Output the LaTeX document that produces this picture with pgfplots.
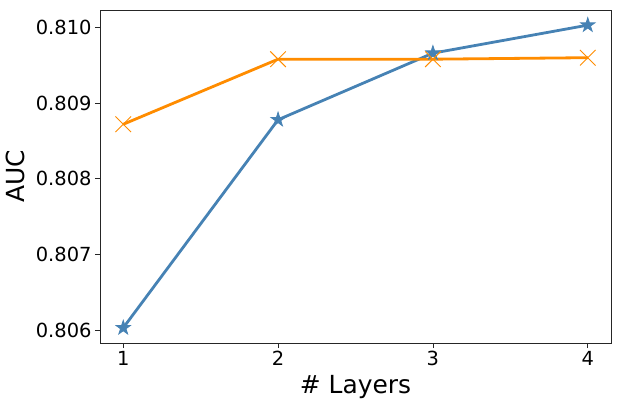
\documentclass[border=0pt]{standalone}
\usepackage{pgfplots}
\pgfplotsset{compat=1.18}
\usepackage{fontspec}
\setmainfont{DejaVu Sans}
\definecolor{steel}{RGB}{70,130,180}
\definecolor{dorange}{RGB}{255,140,0}
\pgfdeclareplotmark{fstar}{%
  \pgfpathmoveto{\pgfpointpolar{90}{\pgfplotmarksize}}%
  \pgfpathlineto{\pgfpointpolar{126}{0.382\pgfplotmarksize}}%
  \pgfpathlineto{\pgfpointpolar{162}{\pgfplotmarksize}}%
  \pgfpathlineto{\pgfpointpolar{198}{0.382\pgfplotmarksize}}%
  \pgfpathlineto{\pgfpointpolar{234}{\pgfplotmarksize}}%
  \pgfpathlineto{\pgfpointpolar{270}{0.382\pgfplotmarksize}}%
  \pgfpathlineto{\pgfpointpolar{306}{\pgfplotmarksize}}%
  \pgfpathlineto{\pgfpointpolar{342}{0.382\pgfplotmarksize}}%
  \pgfpathlineto{\pgfpointpolar{18}{\pgfplotmarksize}}%
  \pgfpathlineto{\pgfpointpolar{54}{0.382\pgfplotmarksize}}%
  \pgfpathclose
  \pgfusepathqfillstroke
}
\begin{document}
\begin{tikzpicture}
\begin{axis}[
  anchor=south west, at={(0,0)},
  scale only axis, width=511bp, height=333bp,
  xmin=0.85, xmax=4.15, ymin=0.80583, ymax=0.81023,
  xtick={1,2,3,4},
  ytick={0.806,0.807,0.808,0.809,0.810},
  yticklabel style={/pgf/number format/.cd, fixed, precision=3, fixed zerofill},
  scaled y ticks=false,
  /pgf/number format/assume math mode=true,
  tick label style={font=\fontsize{19.5}{23}\selectfont, text=black},
  tick align=outside, tick pos=left,
  major tick length=5bp,
  axis line style={black!85, line width=0.8bp},
  every tick/.style={black!85, line width=0.8bp},
  xlabel={\# Layers}, ylabel={AUC},
  label style={font=\fontsize{25}{30}\selectfont},
  xlabel style={yshift=-2bp},
  ylabel style={yshift=4bp},
]
\addplot[steel, line width=2.8bp, mark=fstar, mark size=7.5bp,
  mark options={solid, fill=steel, line width=0.8bp}]
  coordinates {(1,0.80603) (2,0.80878) (3,0.80966) (4,0.81003)};
\addplot[dorange, line width=2.8bp, mark=x, mark size=11bp,
  mark options={solid, line width=0.9bp}]
  coordinates {(1,0.80872) (2,0.80958) (3,0.80958) (4,0.80960)};
\end{axis}
\path[use as bounding box] (-100bp,-62bp) rectangle (523bp,343bp);
\end{tikzpicture}
\end{document}
